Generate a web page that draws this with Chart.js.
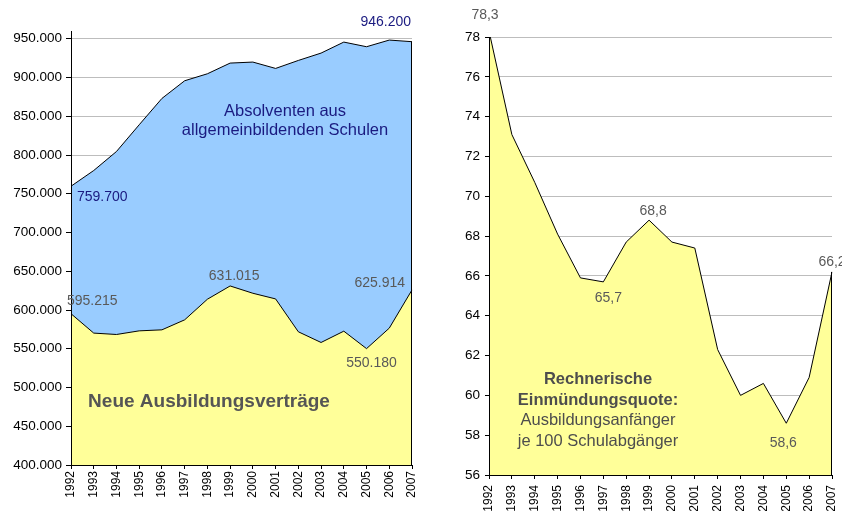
<!DOCTYPE html>
<html><head><meta charset="utf-8">
<script src="https://cdn.jsdelivr.net/npm/chart.js@4/dist/chart.umd.min.js"></script>
<style>
html,body{margin:0;padding:0;background:#fff;}
#wrap{position:relative;width:842px;height:511px;overflow:hidden;background:#fff;}
#c1{position:absolute;left:0;top:0;}
#c2{position:absolute;left:430px;top:0;}
</style></head><body>
<div id="wrap"><canvas id="c1" width="430" height="511"></canvas><canvas id="c2" width="412" height="511"></canvas></div>
<script>
const years = ['1992','1993','1994','1995','1996','1997','1998','1999','2000','2001','2002','2003','2004','2005','2006','2007'];
const absolventen = [759700, 780000, 804500, 839000, 873000, 895800, 904800, 918600, 919900, 911700, 922000, 931500, 945700, 939700, 948300, 946200];
const ausbildungsvertraege = [595215, 570200, 568400, 573100, 574400, 587300, 613900, 631015, 621600, 614300, 571900, 558100, 572700, 550180, 576600, 625914];
const einmuendungsquote = [78.3, 73.1, 70.7, 68.1, 65.9, 65.7, 67.7, 68.8, 67.7, 67.4, 62.3, 60.0, 60.6, 58.6, 60.9, 66.2];
const leftTicks = [400000, 450000, 500000, 550000, 600000, 650000, 700000, 750000, 800000, 850000, 900000, 950000];
const rightTicks = [56, 58, 60, 62, 64, 66, 68, 70, 72, 74, 76, 78];

const FONT = '"Liberation Sans", Arial, Helvetica, sans-serif';
const fmtDE = v => String(Math.round(v)).replace(/\B(?=(\d{3})+(?!\d))/g, '.');
const fmtDec = v => v.toFixed(1).replace('.', ',');

const textPlugin = {
  id: 'texts',
  afterDraw(chart, args, opts) {
    const ctx = chart.ctx;
    ctx.save();
    ctx.textBaseline = 'middle';
    (opts.labels || []).forEach(l => {
      const val = chart.data.datasets[l.ds].data[l.idx];
      const x = chart.scales.x.getPixelForValue(l.idx);
      const y = chart.scales.y.getPixelForValue(val);
      ctx.font = '14px ' + FONT;
      ctx.fillStyle = l.color;
      ctx.textAlign = l.align || 'center';
      ctx.fillText(l.fmt(val), x + l.dx, y + l.dy);
    });
    (opts.notes || []).forEach(n => {
      ctx.font = (n.bold ? 'bold ' : '') + n.size + 'px ' + FONT;
      ctx.fillStyle = n.color;
      ctx.textAlign = 'center';
      ctx.fillText(n.text, n.x, n.y);
    });
    ctx.restore();
  }
};

const edgePlugin = {
  id: 'edge',
  afterDatasetsDraw(chart) {
    const ctx = chart.ctx;
    const a = chart.chartArea;
    ctx.save();
    ctx.strokeStyle = '#000';
    ctx.lineWidth = 1;
    chart.data.datasets.forEach((d, i) => {
      const meta = chart.getDatasetMeta(i);
      const p = meta.data[meta.data.length - 1];
      const y = Math.max(p.y, a.top);
      ctx.beginPath();
      ctx.moveTo(Math.round(p.x) - 0.5, y);
      ctx.lineTo(Math.round(p.x) - 0.5, a.bottom);
      ctx.stroke();
    });
    ctx.restore();
  }
};

function commonX(padding, h) {
  return {
    type: 'category',
    offset: false,
    afterFit: s => { s.height = h; s.paddingLeft = 0; s.paddingRight = 0; },
    grid: { drawOnChartArea: false, drawTicks: true, tickLength: 4, tickColor: '#000' },
    border: { display: true, color: '#000', width: 1, z: 1 },
    ticks: { autoSkip: false, maxRotation: 90, minRotation: 90, padding: padding, color: '#000', font: { family: FONT, size: 12 } }
  };
}

new Chart(document.getElementById('c1'), {
  type: 'line',
  data: {
    labels: years,
    datasets: [
      { label: 'Neue Ausbildungsverträge', data: ausbildungsvertraege, fill: 'start', backgroundColor: '#FFFF99', borderColor: '#000', borderWidth: 1, pointRadius: 0, tension: 0 },
      { label: 'Absolventen aus allgemeinbildenden Schulen', data: absolventen, fill: 'start', backgroundColor: '#99CCFF', borderColor: '#000', borderWidth: 1, pointRadius: 0, tension: 0 }
    ]
  },
  options: {
    responsive: false, animation: false,
    layout: { padding: { left: 0, top: 31, right: 18, bottom: 0 } },
    plugins: {
      legend: { display: false }, tooltip: { enabled: false },
      texts: {
        labels: [
          { ds: 1, idx: 0, fmt: fmtDE, color: '#1a1a80', align: 'left', dx: 6, dy: 11 },
          { ds: 1, idx: 15, fmt: fmtDE, color: '#1a1a80', align: 'right', dx: -1, dy: -20 },
          { ds: 0, idx: 0, fmt: fmtDE, color: '#595959', align: 'left', dx: -4, dy: -13 },
          { ds: 0, idx: 7, fmt: fmtDE, color: '#595959', align: 'center', dx: 4, dy: -10 },
          { ds: 0, idx: 13, fmt: fmtDE, color: '#595959', align: 'center', dx: 5, dy: 15 },
          { ds: 0, idx: 15, fmt: fmtDE, color: '#595959', align: 'right', dx: -7, dy: -7 }
        ],
        notes: [
          { text: 'Absolventen aus', x: 285, y: 111, size: 16.5, color: '#1a1a80' },
          { text: 'allgemeinbildenden Schulen', x: 285, y: 130, size: 16.5, color: '#1a1a80' },
          { text: 'Neue Ausbildungsverträge', x: 209, y: 402, size: 19, bold: true, color: '#555555' }
        ]
      }
    },
    scales: {
      x: commonX(2, 46),
      y: {
        min: 400000, max: 960000,
        afterBuildTicks: s => { s.ticks = leftTicks.map(v => ({ value: v })); },
        afterFit: s => { s.width = 71; },
        grid: { color: '#bdbdbd', lineWidth: 1, drawTicks: true, tickLength: 5, tickColor: '#000' },
        border: { display: true, color: '#000', width: 1, z: 1 },
        ticks: { padding: 4, color: '#000', font: { family: FONT, size: 13.5 }, callback: v => fmtDE(v) }
      }
    }
  },
  plugins: [textPlugin, edgePlugin]
});

new Chart(document.getElementById('c2'), {
  type: 'line',
  data: {
    labels: years,
    datasets: [
      { label: 'Rechnerische Einmündungsquote', data: einmuendungsquote, fill: 'start', backgroundColor: '#FFFF99', borderColor: '#000', borderWidth: 1, pointRadius: 0, tension: 0 }
    ]
  },
  options: {
    responsive: false, animation: false,
    layout: { padding: { left: 0, top: 37, right: 10, bottom: 0 } },
    plugins: {
      legend: { display: false }, tooltip: { enabled: false },
      texts: {
        labels: [
          { ds: 0, idx: 0, fmt: fmtDec, color: '#595959', align: 'center', dx: -4, dy: -16 },
          { ds: 0, idx: 7, fmt: fmtDec, color: '#595959', align: 'center', dx: 4, dy: -9 },
          { ds: 0, idx: 5, fmt: fmtDec, color: '#595959', align: 'center', dx: 5, dy: 16 },
          { ds: 0, idx: 13, fmt: fmtDec, color: '#595959', align: 'center', dx: -3, dy: 20 },
          { ds: 0, idx: 15, fmt: fmtDec, color: '#595959', align: 'center', dx: 0, dy: -10 }
        ],
        notes: [
          { text: 'Rechnerische', x: 168, y: 379, size: 16.5, bold: true, color: '#4d4d4d' },
          { text: 'Einmündungsquote:', x: 168, y: 400, size: 16.5, bold: true, color: '#4d4d4d' },
          { text: 'Ausbildungsanfänger', x: 168, y: 420, size: 16.5, color: '#4d4d4d' },
          { text: 'je 100 Schulabgänger', x: 168, y: 441, size: 16.5, color: '#4d4d4d' }
        ]
      }
    },
    scales: {
      x: commonX(6, 36),
      y: {
        min: 56, max: 78,
        afterBuildTicks: s => { s.ticks = rightTicks.map(v => ({ value: v })); },
        afterFit: s => { s.width = 59; },
        grid: { color: '#bdbdbd', lineWidth: 1, drawTicks: true, tickLength: 4, tickColor: '#000' },
        border: { display: true, color: '#000', width: 1, z: 1 },
        ticks: { padding: 5, color: '#000', font: { family: FONT, size: 13.5 } }
      }
    }
  },
  plugins: [textPlugin, edgePlugin]
});
</script>
</body></html>
